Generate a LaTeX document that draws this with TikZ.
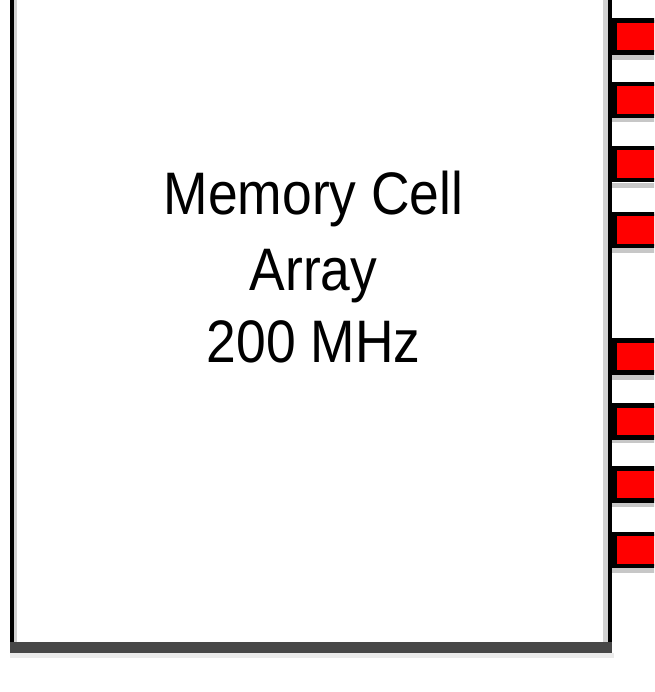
\documentclass[tikz,border=0pt]{standalone}
\usepackage{fontspec}
\setmainfont{Liberation Sans}[FakeStretch=0.89]
\begin{document}
\begin{tikzpicture}[x=1pt,y=-1pt,
  pin/.style={draw=black,line width=4.5pt,fill=red,rectangle,inner sep=0pt,minimum height=32pt,minimum width=60pt,anchor=west},
  lbl/.style={font=\fontsize{60}{72}\selectfont,anchor=base,text=black,inner sep=0pt},
  edge/.style={line width=4.5pt,draw=black}]
\useasboundingbox (0,0) rectangle (654,692);
\clip (0,0) rectangle (654,692);
\fill[white] (0,0) rectangle (654,692);
% shadows
\fill[black!18] (14,-10) rectangle (17,653);
\fill[black!18] (603,-10) rectangle (607.5,642);
\fill[black!8] (10,653) rectangle (614,658);
% box edges
\draw[edge] (11.75,-10) -- (11.75,647);
\draw[edge] (610,-10) -- (610,647);
\fill[black!72] (9.5,642) rectangle (612.3,653);
% pins
\foreach \t/\b [count=\i] in {18/55,83/117,145/183,212/248,338/375,405/438,467/502,532/568}{
  \fill[black!22] (612,\b) rectangle (660,\b+5);
  \node[pin] (pin\i) at (612,{(\t+\b)/2}) {};
}
% text
\node[lbl] (t1) at (313.5,215) {Memory Cell};
\node[lbl] (t2) at (313.5,290) {Array};
\node[lbl] (t3) at (313.5,362) {200 MHz};
\end{tikzpicture}
\end{document}
